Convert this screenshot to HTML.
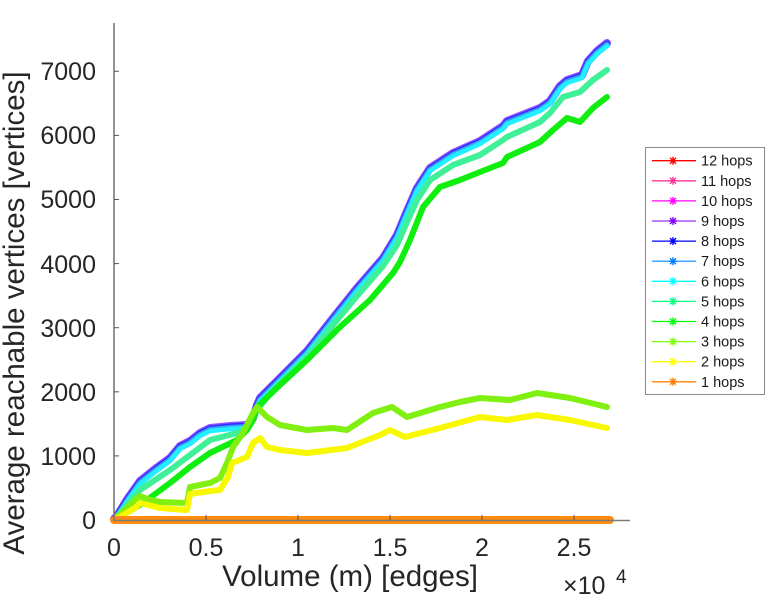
<!DOCTYPE html>
<html><head><meta charset="utf-8"><style>
html,body{margin:0;padding:0;background:#fff;}
svg{display:block;font-family:"Liberation Sans",Arial,sans-serif;}
</style></head><body>
<svg width="768" height="600" viewBox="0 0 768 600" xmlns="http://www.w3.org/2000/svg">
<defs>
<symbol id="ast" viewBox="-5 -5 10 10" overflow="visible">
<path d="M-4,0H4M0,-4V4M-3,-3L3,3M-3,3L3,-3" stroke-width="1.4" fill="none"/>
</symbol>
</defs>
<rect width="768" height="600" fill="#fff"/>

<!-- data series (12 hops first, 1 hops last) -->
<g fill="none" stroke-linejoin="round" stroke-linecap="round">
<g id="top">
<polyline stroke="#ff3030" stroke-width="7" opacity="0.8" points="114,519 117,516 128,499 140,482 155,470 170,459 180,447 190,442 200,434 210,429 230,427 247,426 253,419 257,406 260,399 273,386 290,369 307,352 333,319 357,289 383,259 397,236 407,212 417,189 430,169 453,154 480,142 503,127 507,122 540,109 550,102 560,87 567,81 582,76 588,62 597,52 607,44"/>
<polyline stroke="#ff40c0" stroke-width="7" opacity="0.8" points="114,519 117,516 128,499 140,482 155,470 170,459 180,447 190,442 200,434 210,429 230,427 247,426 253,419 257,406 260,399 273,386 290,369 307,352 333,319 357,289 383,259 397,236 407,212 417,189 430,169 453,154 480,142 503,127 507,122 540,109 550,102 560,87 567,81 582,76 588,62 597,52 607,44"/>
<polyline stroke="#8a3cff" stroke-width="8" opacity="0.9" points="114,519 117,516 128,498 140,481 155,469 170,458 180,446 190,441 200,433 210,428 230,426 247,425 253,418 257,405 260,398 273,385 290,368 307,351 333,318 357,288 383,258 397,235 407,211 417,188 430,168 453,153 480,141 503,126 507,121 540,108 550,101 560,86 567,80 582,75 588,61 597,51 607,43"/>
<polyline stroke="#2030ff" stroke-width="7" opacity="0.9" points="114,519 117,516 128,499 140,482 155,470 170,459 180,447 190,442 200,434 210,429 230,427 247,426 253,419 257,406 260,399 273,386 290,369 307,352 333,319 357,289 383,259 397,236 407,212 417,189 430,169 453,154 480,142 503,127 507,122 540,109 550,102 560,87 567,81 582,76 588,62 597,52 607,44"/>
<polyline stroke="#3aa0ff" stroke-width="6" points="114,520 117,517 128,500 140,483 155,471 170,460 180,448 190,443 200,435 210,430 230,428 247,427 253,420 257,407 260,400 273,387 290,370 307,353 333,320 357,290 383,260 397,237 407,213 417,190 430,170 453,155 480,143 503,128 507,123 540,110 550,103 560,88 567,82 582,77 588,63 597,53 607,45"/>
<polyline stroke="#20f0ff" stroke-width="4.5" points="114,520 117,517 128,500 140,484 155,472 170,461 180,449 190,444 200,436 210,431 230,429 247,428 253,421 257,408 260,401 273,388 290,371 307,354 333,321 357,291 383,261 397,238 407,214 417,191 430,171 453,156 480,144 503,129 507,124 540,111 550,104 560,89 567,83 582,78 588,64 597,54 607,46"/>
</g>
<polyline stroke="#40f098" stroke-width="6" points="114,520 140,490 170,470 190,455 210,440 237,433 250,425 257,410 273,390 307,357 333,325 357,296 383,266 397,245 407,222 417,200 430,180 453,165 480,155 503,140 507,137 540,122 550,113 563,97 580,92 593,80 607,70"/>
<polyline stroke="#10ee10" stroke-width="6" points="114,520 143,503 170,483 190,467 210,453 237,440 247,430 253,420 257,407 280,385 307,360 340,327 370,300 393,273 400,262 410,240 423,207 440,187 460,180 480,172 503,163 507,157 540,142 553,130 567,118 580,122 593,108 607,97"/>
<polyline stroke="#80f010" stroke-width="6" points="114,520 125,510 135,500 140,496 150,500 160,502 187,503 190,487 210,483 220,478 227,463 233,447 243,433 253,413 257,407 267,417 280,425 307,430 333,428 347,430 373,413 392,407 407,417 440,407 460,402 480,398 510,400 537,393 570,398 607,407"/>
<polyline stroke="#f8f800" stroke-width="6" points="114,520 125,514 135,508 140,503 160,508 187,510 190,494 210,491 220,490 228,477 232,463 247,457 253,443 260,438 267,447 280,450 307,453 347,448 380,435 390,430 405,437 440,428 480,417 507,420 537,415 570,420 607,428"/>
<polyline stroke="#ff8a10" stroke-width="8" points="114,520 610,520"/>
</g>

<!-- axes -->
<g stroke="#7a7a7a" stroke-width="1.6" fill="none">
<line x1="114" y1="23" x2="114" y2="521"/>
<line x1="113" y1="520.5" x2="630" y2="520.5"/>
</g>
<g stroke="#555" stroke-width="1">
<line x1="114" y1="455.9" x2="119" y2="455.9"/>
<line x1="114" y1="391.8" x2="119" y2="391.8"/>
<line x1="114" y1="327.7" x2="119" y2="327.7"/>
<line x1="114" y1="263.6" x2="119" y2="263.6"/>
<line x1="114" y1="199.5" x2="119" y2="199.5"/>
<line x1="114" y1="135.4" x2="119" y2="135.4"/>
<line x1="114" y1="71.3" x2="119" y2="71.3"/>
<line x1="206" y1="520" x2="206" y2="515"/>
<line x1="298" y1="520" x2="298" y2="515"/>
<line x1="390" y1="520" x2="390" y2="515"/>
<line x1="482" y1="520" x2="482" y2="515"/>
<line x1="574" y1="520" x2="574" y2="515"/>
</g>

<!-- tick labels -->
<g fill="#262626" font-size="25" text-anchor="end">
<text x="96" y="529">0</text>
<text x="96" y="465">1000</text>
<text x="96" y="401">2000</text>
<text x="96" y="337">3000</text>
<text x="96" y="273">4000</text>
<text x="96" y="208">5000</text>
<text x="96" y="144">6000</text>
<text x="96" y="80">7000</text>
</g>
<g fill="#262626" font-size="25" text-anchor="middle">
<text x="114" y="556">0</text>
<text x="206" y="556">0.5</text>
<text x="298" y="556">1</text>
<text x="390" y="556">1.5</text>
<text x="482" y="556">2</text>
<text x="574" y="556">2.5</text>
</g>
<text x="563" y="594" fill="#262626" font-size="25">×10</text>
<text x="616" y="583" fill="#262626" font-size="19">4</text>

<!-- axis labels -->
<text x="350" y="586" fill="#262626" font-size="29.5" text-anchor="middle">Volume (m) [edges]</text>
<text transform="translate(24,313) rotate(-90)" fill="#262626" font-size="29.5" text-anchor="middle">Average reachable vertices [vertices]</text>

<!-- legend -->
<rect x="645.5" y="147.5" width="119" height="247" fill="#fff" stroke="#8a8a8a" stroke-width="1"/>
<g font-size="14.5" fill="#1a1a1a">
<g transform="translate(0,160.7)"><line x1="652" y1="0" x2="696" y2="0" stroke="#ff0000" stroke-width="1.3"/><use href="#ast" x="668" y="-5" width="10" height="10" stroke="#ff0000"/><text x="701" y="5">12 hops</text></g>
<g transform="translate(0,180.8)"><line x1="652" y1="0" x2="696" y2="0" stroke="#ff3399" stroke-width="1.3"/><use href="#ast" x="668" y="-5" width="10" height="10" stroke="#ff3399"/><text x="701" y="5">11 hops</text></g>
<g transform="translate(0,200.9)"><line x1="652" y1="0" x2="696" y2="0" stroke="#ff00ff" stroke-width="1.3"/><use href="#ast" x="668" y="-5" width="10" height="10" stroke="#ff00ff"/><text x="701" y="5">10 hops</text></g>
<g transform="translate(0,221.0)"><line x1="652" y1="0" x2="696" y2="0" stroke="#9933ff" stroke-width="1.3"/><use href="#ast" x="668" y="-5" width="10" height="10" stroke="#8000ff"/><text x="701" y="5">9 hops</text></g>
<g transform="translate(0,241.1)"><line x1="652" y1="0" x2="696" y2="0" stroke="#0000ff" stroke-width="1.3"/><use href="#ast" x="668" y="-5" width="10" height="10" stroke="#0000ff"/><text x="701" y="5">8 hops</text></g>
<g transform="translate(0,261.2)"><line x1="652" y1="0" x2="696" y2="0" stroke="#3399ff" stroke-width="1.3"/><use href="#ast" x="668" y="-5" width="10" height="10" stroke="#0080ff"/><text x="701" y="5">7 hops</text></g>
<g transform="translate(0,281.3)"><line x1="652" y1="0" x2="696" y2="0" stroke="#00ffff" stroke-width="1.3"/><use href="#ast" x="668" y="-5" width="10" height="10" stroke="#00ffff"/><text x="701" y="5">6 hops</text></g>
<g transform="translate(0,301.4)"><line x1="652" y1="0" x2="696" y2="0" stroke="#00ff80" stroke-width="1.3"/><use href="#ast" x="668" y="-5" width="10" height="10" stroke="#00ff80"/><text x="701" y="5">5 hops</text></g>
<g transform="translate(0,321.5)"><line x1="652" y1="0" x2="696" y2="0" stroke="#00ff00" stroke-width="1.3"/><use href="#ast" x="668" y="-5" width="10" height="10" stroke="#00ff00"/><text x="701" y="5">4 hops</text></g>
<g transform="translate(0,341.6)"><line x1="652" y1="0" x2="696" y2="0" stroke="#80ff00" stroke-width="1.3"/><use href="#ast" x="668" y="-5" width="10" height="10" stroke="#80ff00"/><text x="701" y="5">3 hops</text></g>
<g transform="translate(0,361.7)"><line x1="652" y1="0" x2="696" y2="0" stroke="#ffff00" stroke-width="1.3"/><use href="#ast" x="668" y="-5" width="10" height="10" stroke="#ffff00"/><text x="701" y="5">2 hops</text></g>
<g transform="translate(0,381.8)"><line x1="652" y1="0" x2="696" y2="0" stroke="#ff8000" stroke-width="1.3"/><use href="#ast" x="668" y="-5" width="10" height="10" stroke="#ff8000"/><text x="701" y="5">1 hops</text></g>
</g>
</svg>
</body></html>
